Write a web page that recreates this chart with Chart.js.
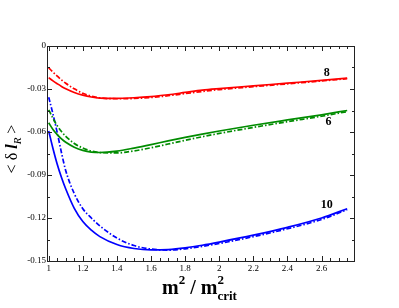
<!DOCTYPE html>
<html>
<head>
<meta charset="utf-8">
<script src="https://cdn.jsdelivr.net/npm/chart.js@4/dist/chart.umd.min.js"></script>
<style>
  html, body { margin: 0; padding: 0; background: #fff; }
  #wrap { width: 399px; height: 308px; }
</style>
</head>
<body>
<div id="wrap"><canvas id="chart" width="399" height="308"></canvas></div>
<script>
// m^2 / m^2_crit sample positions
const xs = [1, 1.025, 1.05, 1.075, 1.1, 1.15, 1.2, 1.25, 1.3, 1.4, 1.5, 1.6, 1.7, 1.8, 1.9, 2.0, 2.2, 2.4, 2.6, 2.75];

// N = 8 (red)
const red8Solid = [-0.0221, -0.0243, -0.0263, -0.0282, -0.0298, -0.0324, -0.0343, -0.0356, -0.0363, -0.0365, -0.0361, -0.0353, -0.0340, -0.0324, -0.0308, -0.0297, -0.0278, -0.0259, -0.0240, -0.0224];
const red8Dash = [-0.0152, -0.0182, -0.0210, -0.0237, -0.0260, -0.0299, -0.0330, -0.0350, -0.0362, -0.0368, -0.0366, -0.0359, -0.0347, -0.0332, -0.0317, -0.0304, -0.0284, -0.0264, -0.0244, -0.0228];

// N = 6 (green)
const green6Solid = [-0.0536, -0.0582, -0.0618, -0.0648, -0.0672, -0.0706, -0.0728, -0.0740, -0.0743, -0.0733, -0.0712, -0.0688, -0.0662, -0.0638, -0.0615, -0.0593, -0.0553, -0.0516, -0.0480, -0.0450];
const green6Dash = [-0.0445, -0.0505, -0.0556, -0.0597, -0.0630, -0.0680, -0.0712, -0.0733, -0.0744, -0.0746, -0.0732, -0.0710, -0.0684, -0.0658, -0.0633, -0.0610, -0.0568, -0.0528, -0.0490, -0.0458];

// N = 10 (blue)
const blue10Solid = [-0.0593, -0.0715, -0.0825, -0.0918, -0.0998, -0.1133, -0.1225, -0.1285, -0.1330, -0.1385, -0.1413, -0.1423, -0.1420, -0.1408, -0.1390, -0.1368, -0.1320, -0.1265, -0.1200, -0.1135];
const blue10Dash = [-0.0357, -0.0475, -0.0605, -0.0745, -0.0870, -0.1030, -0.1135, -0.1200, -0.1255, -0.1340, -0.1392, -0.1417, -0.1424, -0.1415, -0.1398, -0.1378, -0.1330, -0.1275, -0.1210, -0.1142];

const xTickLabels = [1, 1.2, 1.4, 1.6, 1.8, 2, 2.2, 2.4, 2.6];
const yTickLabels = [0, -0.03, -0.06, -0.09, -0.12, -0.15];
const curveLabels = [
  { text: '8', x: 2.63, y: -0.0185 },
  { text: '6', x: 2.64, y: -0.0530 },
  { text: '10', x: 2.63, y: -0.1110 }
];

const serif = '"Liberation Serif", "DejaVu Serif", serif';
const dashDot = [5, 2, 1.5, 2];

function pts(vals) {
  return vals.map((v, i) => ({ x: xs[i], y: v }));
}

function series(vals, color, dashed) {
  return {
    data: pts(vals),
    borderColor: color,
    borderWidth: 1.7,
    borderDash: dashed ? dashDot : [],
    pointRadius: 0,
    fill: false,
    cubicInterpolationMode: 'monotone'
  };
}

// frame, inward ticks on all four sides, axis titles and curve labels
const decor = {
  id: 'decor',
  afterDraw(chart) {
    const ctx = chart.ctx;
    const a = chart.chartArea;
    const sx = chart.scales.x, sy = chart.scales.y;
    const L = Math.round(a.left), R = Math.round(a.right);
    const T = Math.round(a.top), B = Math.round(a.bottom);
    ctx.save();
    ctx.setLineDash([]);
    ctx.globalAlpha = 1;
    ctx.fillStyle = '#222';
    ctx.fillRect(L, T, R - L + 1, 1);
    ctx.fillRect(L, B, R - L + 1, 1);
    ctx.fillRect(L, T, 1, B - T + 1);
    ctx.fillRect(R, T, 1, B - T + 1);

    for (let k = 0; k <= 35; k++) {
      const px = Math.round(sx.getPixelForValue(1 + k * 0.05));
      if (px > R - 1) break;
      const len = (k % 4 === 0) ? 5 : 3;
      ctx.fillRect(px, B - len, 1, len);
      ctx.fillRect(px, T, 1, len);
    }
    for (let k = 1; k < 10; k++) {
      const py = Math.round(sy.getPixelForValue(-k * 0.015));
      const len = (k % 2 === 0) ? 5 : 3;
      ctx.fillRect(L, py, len, 1);
      ctx.fillRect(R - len + 1, py, len, 1);
    }

    // curve labels
    ctx.fillStyle = '#000';
    ctx.font = 'bold 12px ' + serif;
    ctx.textAlign = 'center';
    ctx.textBaseline = 'middle';
    curveLabels.forEach(l => {
      ctx.fillText(l.text, sx.getPixelForValue(l.x), sy.getPixelForValue(l.y));
    });

    // x title: m^2 / m^2_crit
    ctx.textBaseline = 'alphabetic';
    ctx.textAlign = 'left';
    const parts = [
      { t: 'm', f: 'bold 20px ', dy: 0 },
      { t: '2', f: 'bold 13px ', dy: -10 },
      { t: ' / m', f: 'bold 20px ', dy: 0 },
      { t: '2', f: 'bold 13px ', dy: -10, keep: true },
      { t: 'crit', f: 'bold 13px ', dy: 6 }
    ];
    parts.forEach(p => { ctx.font = p.f + serif; p.w = ctx.measureText(p.t).width; });
    let x0 = 162;
    const base = 294;
    parts.forEach(p => {
      ctx.font = p.f + serif;
      ctx.fillText(p.t, x0, base + p.dy);
      if (!p.keep) x0 += p.w;
    });

    // y title: < δ l_R >
    ctx.translate(12, 149);
    ctx.rotate(-Math.PI / 2);
    const yp = [
      { t: '< \u03b4 ', f: '16px ', dy: 0 },
      { t: 'l', f: 'italic bold 16px ', dy: 0 },
      { t: 'R', f: 'italic 11px ', dy: 4 },
      { t: ' >', f: '16px ', dy: 0 }
    ];
    let tw = 0;
    yp.forEach(p => { ctx.font = p.f + serif; p.w = ctx.measureText(p.t).width; tw += p.w; });
    let y0 = -tw / 2;
    yp.forEach(p => {
      ctx.font = p.f + serif;
      ctx.fillText(p.t, y0, 5 + p.dy);
      y0 += p.w;
    });
    ctx.restore();
  }
};

new Chart(document.getElementById('chart').getContext('2d'), {
  type: 'line',
  data: {
    datasets: [
      series(red8Solid, '#ff0000', false),
      series(red8Dash, '#ff0000', true),
      series(green6Solid, '#008c00', false),
      series(green6Dash, '#008c00', true),
      series(blue10Solid, '#0000ff', false),
      series(blue10Dash, '#0000ff', true)
    ]
  },
  options: {
    responsive: false,
    animation: false,
    layout: { padding: { left: 0, right: 45, top: 46, bottom: 0 } },
    plugins: { legend: { display: false }, tooltip: { enabled: false } },
    scales: {
      x: {
        type: 'linear',
        min: 0.99,
        max: 2.79,
        grid: { display: false, drawTicks: false },
        border: { display: false },
        afterBuildTicks: s => { s.ticks = xTickLabels.map(v => ({ value: v })); },
        afterFit: s => { s.height = 47; },
        ticks: {
          autoSkip: false,
          maxRotation: 0,
          padding: 2,
          color: '#000',
          font: { family: serif, size: 9 },
          callback: v => String(v)
        }
      },
      y: {
        type: 'linear',
        min: -0.15,
        max: 0,
        grid: { display: false, drawTicks: false },
        border: { display: false },
        afterBuildTicks: s => { s.ticks = yTickLabels.map(v => ({ value: v })); },
        afterFit: s => { s.width = 47; },
        ticks: {
          autoSkip: false,
          padding: 1,
          color: '#000',
          font: { family: serif, size: 9 },
          callback: v => (v === 0 ? '0' : v.toFixed(2))
        }
      }
    }
  },
  plugins: [decor]
});
</script>
</body>
</html>
